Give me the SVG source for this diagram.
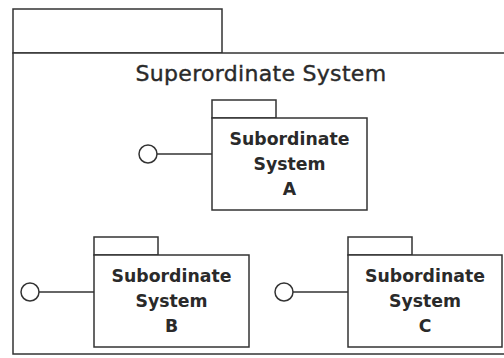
<svg xmlns="http://www.w3.org/2000/svg" width="504" height="358" viewBox="0 0 504 358">
<style>
.box{fill:#fff;stroke:#333;stroke-width:1.5}
.ln{fill:none;stroke:#333;stroke-width:1.5}
.ifc{fill:#fff;stroke:#333;stroke-width:1.5}
.title{font-family:"DejaVu Sans",Verdana,sans-serif;font-size:22px;fill:#2a2a2a;stroke:#2a2a2a;stroke-width:0.4;text-anchor:middle;letter-spacing:0.3px}
.lbl{font-family:"DejaVu Sans",Verdana,sans-serif;font-size:17.3px;font-weight:bold;fill:#2a2a2a;text-anchor:middle}
</style>
<rect width="504" height="358" fill="#fff"/>
<g id="superordinate">
<rect class="box" x="13" y="9" width="209" height="44"/>
<rect class="box" x="13" y="53" width="497" height="301"/>
<text class="title" x="261" y="81">Superordinate System</text>
</g>
<g id="connectors">
<line class="ln" x1="157" y1="154" x2="212" y2="154"/>
<line class="ln" x1="39" y1="292" x2="94" y2="292"/>
<line class="ln" x1="293" y1="292" x2="348" y2="292"/>
</g>
<g id="interfaceA"><circle class="ifc" cx="148" cy="154" r="9"/></g>
<g id="interfaceB"><circle class="ifc" cx="30" cy="292" r="9"/></g>
<g id="interfaceC"><circle class="ifc" cx="284" cy="292" r="9"/></g>
<g id="subsystemA">
<rect class="box" x="212" y="100" width="64" height="18"/>
<rect class="box" x="212" y="118" width="155" height="92"/>
<text class="lbl" x="289.5" y="145">Subordinate</text>
<text class="lbl" x="289.5" y="170">System</text>
<text class="lbl" x="289.5" y="195">A</text>
</g>
<g id="subsystemB">
<rect class="box" x="94" y="237" width="64" height="18"/>
<rect class="box" x="94" y="255" width="155" height="92"/>
<text class="lbl" x="171.5" y="282">Subordinate</text>
<text class="lbl" x="171.5" y="307">System</text>
<text class="lbl" x="171.5" y="332">B</text>
</g>
<g id="subsystemC">
<rect class="box" x="348" y="237" width="64" height="18"/>
<rect class="box" x="348" y="255" width="154" height="92"/>
<text class="lbl" x="425" y="282">Subordinate</text>
<text class="lbl" x="425" y="307">System</text>
<text class="lbl" x="425" y="332">C</text>
</g>
</svg>
